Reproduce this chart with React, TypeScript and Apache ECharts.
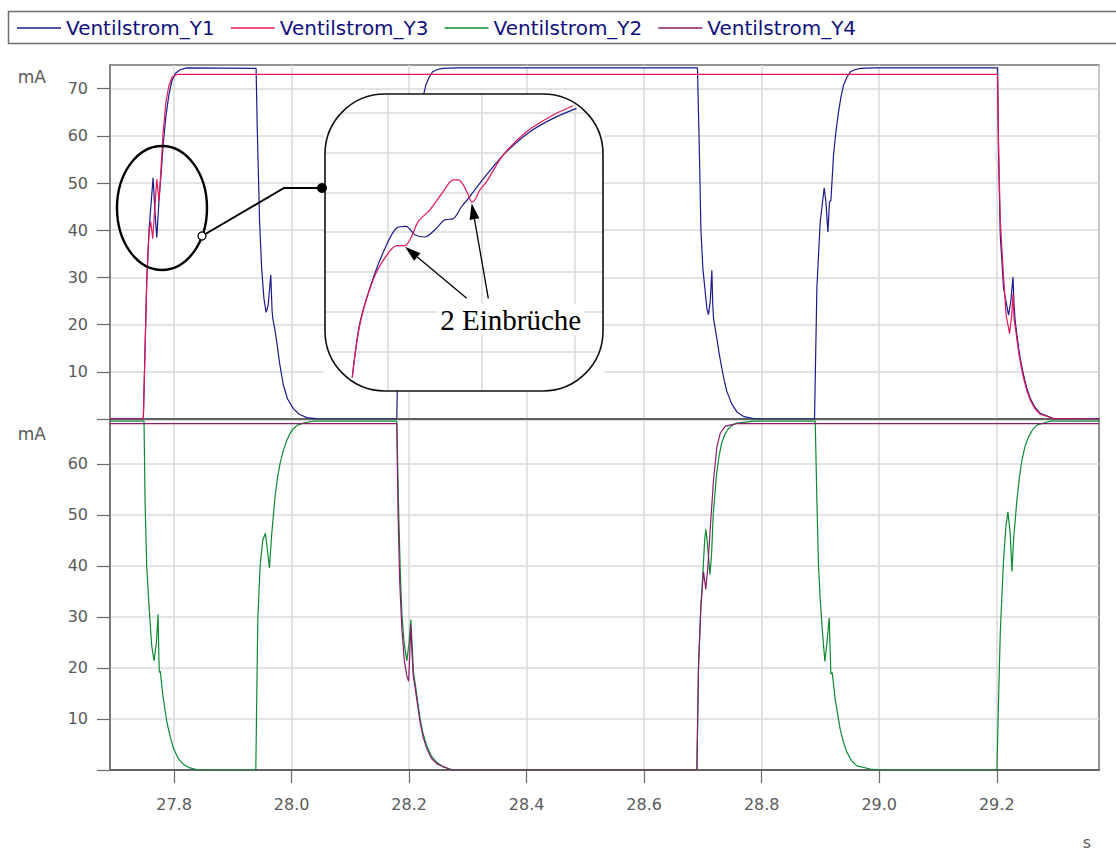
import React, { useEffect, useRef } from "react";
import * as echarts from "echarts";

// ---------- data ----------
const X_MIN = 27.691;
const X_MAX = 29.374;
const xTickValues = [27.8, 28.0, 28.2, 28.4, 28.6, 28.8, 29.0, 29.2];
const yTopTicks = [0, 10, 20, 30, 40, 50, 60, 70];
const yTopLabels = [10, 20, 30, 40, 50, 60, 70];
const yBottomTicks = [0, 10, 20, 30, 40, 50, 60];
const yBottomLabels = [10, 20, 30, 40, 50, 60];
const seriesNames = ["Ventilstrom_Y1", "Ventilstrom_Y3", "Ventilstrom_Y2", "Ventilstrom_Y4"];
const seriesColors = ["#1a1a8c", "#e3175a", "#0c8a32", "#8c1c6c"];
const unitY = "mA";
const unitX = "s";
const annotationText = "2 Einbrüche";

// Ventilstrom_Y1 (upper panel)
const y1Data: [number, number][] = [
  [27.691, 0], [27.7477, 0], [27.7535, 29], [27.7574, 40], [27.7643, 51.1], [27.7675, 44], [27.7706, 38.4],
  [27.7745, 46.6], [27.778, 52], [27.7813, 58], [27.786, 64], [27.791, 68.5], [27.796, 71.5], [27.802, 73.2],
  [27.8102, 74.0], [27.8216, 74.4], [27.9396, 74.3], [27.9415, 62], [27.9435, 52], [27.9455, 42], [27.949, 32],
  [27.953, 25.5], [27.9566, 22.6], [27.96, 24], [27.9646, 30.5], [27.9668, 23], [27.968, 21.3], [27.9715, 19],
  [27.9748, 16.3], [27.98, 11.5], [27.986, 7.2], [27.993, 4.3], [28.003, 2.2], [28.013, 1.0], [28.0259, 0.3],
  [28.0485, 0], [28.179, 0], [28.183, 27.7], [28.1887, 41.8], [28.1955, 49], [28.1984, 46], [28.2018, 39.6],
  [28.2045, 46], [28.2069, 46.3], [28.2113, 55.9], [28.215, 60.5], [28.2198, 65], [28.224, 68.3],
  [28.2283, 70.7], [28.234, 72.4], [28.2397, 73.5], [28.247, 74.0], [28.2568, 74.3], [28.28, 74.4],
  [28.6907, 74.4], [28.6941, 55.8], [28.6965, 40.3], [28.6999, 31.9],
  [28.7067, 23.4], [28.7095, 22.1], [28.7125, 25], [28.7152, 31.5], [28.7165, 25], [28.718, 21.3],
  [28.7237, 17.1], [28.728, 13.6], [28.7322, 10.7], [28.7365, 8.0], [28.7408, 5.8], [28.749, 3.2],
  [28.7578, 1.5], [28.77, 0.5], [28.7861, 0.1], [28.8, 0], [28.8899, 0], [28.8939, 27.7], [28.8996, 41.8],
  [28.9064, 49], [28.9093, 46], [28.9127, 39.6], [28.9154, 46], [28.9178, 46.3], [28.9222, 55.9],
  [28.926, 60.5], [28.9307, 65], [28.935, 68.3], [28.9392, 70.7], [28.945, 72.4], [28.9506, 73.5],
  [28.958, 74.0], [28.9677, 74.3], [28.99, 74.4], [29.2014, 74.4], [29.2031, 55.9], [29.206, 38.9],
  [29.2116, 27.7], [29.2201, 22], [29.224, 25], [29.2276, 30.1], [29.2295, 24], [29.2315, 20.6],
  [29.2372, 15], [29.2415, 11.8], [29.2457, 9.3], [29.251, 6.6], [29.257, 4.4], [29.265, 2.5],
  [29.274, 1.2], [29.2967, 0.1], [29.374, 0],
];

// Ventilstrom_Y3 (upper panel)
const y3Data: [number, number][] = [
  [27.691, 0], [27.7477, 0], [27.7535, 29], [27.7574, 39.6], [27.7603, 41.8], [27.7637, 38.2], [27.7706, 50.8],
  [27.7745, 46.2], [27.778, 53.5], [27.7813, 60.5], [27.786, 67], [27.791, 70.5], [27.7966, 72.4],
  [27.8051, 73], [29.2014, 73], [29.2031, 58], [29.206, 42], [29.2116, 30], [29.216, 22], [29.2218, 18.1],
  [29.2255, 22], [29.2276, 26.5], [29.2295, 21], [29.2315, 19.5], [29.2372, 14.2], [29.2415, 11.1],
  [29.2457, 8.6], [29.251, 6.1], [29.257, 4.0], [29.265, 2.2], [29.274, 1.0], [29.2967, 0.1], [29.374, 0],
];

// Ventilstrom_Y2 (lower panel)
const y2Data: [number, number][] = [
  [27.691, 68.4], [27.7489, 68.4], [27.7506, 52.9], [27.7535, 39.9], [27.7574, 32.1], [27.762, 24.3],
  [27.766, 21.4], [27.77, 25], [27.7728, 30.5], [27.7742, 22], [27.775, 19.1], [27.7765, 19.4],
  [27.7808, 14.8], [27.7876, 9.5], [27.7935, 6.5], [27.7988, 4.3], [27.807, 2.3], [27.8158, 1.1],
  [27.827, 0.4], [27.8386, 0.1], [27.85, 0], [27.9391, 0], [27.9425, 29.5], [27.9464, 39.9], [27.951, 45.1],
  [27.9555, 46.4], [27.959, 43], [27.9623, 39.6], [27.9663, 46.4], [27.9719, 53.6], [27.976, 57.2],
  [27.9804, 60.1], [27.986, 62.6], [27.9918, 64.6], [27.997, 65.9], [28.003, 66.9], [28.01, 67.6],
  [28.02, 68], [28.0371, 68.4], [28.179, 68.4], [28.1818, 52.9],
  [28.1847, 39.9], [28.1876, 30.8], [28.1915, 24.9], [28.1961, 21.4], [28.2, 25], [28.2029, 29.5],
  [28.2051, 24.6], [28.2074, 19.1], [28.2102, 17.1], [28.2187, 10], [28.224, 7], [28.2301, 4.7],
  [28.238, 2.7], [28.2471, 1.5], [28.258, 0.6], [28.2698, 0.2], [28.28, 0], [28.6897, 0], [28.6925, 20.4],
  [28.6965, 32.1], [28.6999, 38.6], [28.703, 45.1], [28.7051, 47.2], [28.7085, 43.2], [28.7119, 38.3],
  [28.7148, 42.5], [28.7176, 50.3], [28.7233, 58.1], [28.7275, 61.6], [28.7318, 64], [28.737, 65.7],
  [28.7432, 66.9], [28.75, 67.6], [28.7578, 68], [28.7861, 68.4], [28.8911, 68.4], [28.8939, 52.9],
  [28.8967, 39.9], [28.8996, 33.4], [28.9035, 26.9],
  [28.9075, 21.3], [28.911, 25], [28.9149, 29.8], [28.9177, 18.8], [28.92, 19.1], [28.925, 13.9],
  [28.9335, 8], [28.939, 5.5], [28.9449, 3.5], [28.953, 1.8], [28.962, 0.8], [28.9847, 0.2], [29.0, 0],
  [29.2003, 0], [29.2031, 13.9], [29.206, 26.9], [29.2116, 41.2], [29.2156, 47.7], [29.219, 50.6],
  [29.2229, 46.4], [29.2258, 38.9], [29.2286, 45.1], [29.2343, 52.9], [29.2385, 57.3], [29.2428, 60.7],
  [29.248, 63.4], [29.2541, 65.3], [29.261, 66.7], [29.2684, 67.6], [29.2911, 68.4], [29.374, 68.4],
];

// Ventilstrom_Y4 (lower panel)
const y4Data: [number, number][] = [
  [27.691, 67.9], [28.179, 67.9], [28.1812, 50], [28.184, 37], [28.1875, 28], [28.1918, 21.5], [28.196, 18.5],
  [28.1992, 17.4], [28.2012, 23], [28.2029, 28.5], [28.2049, 23], [28.207, 18.5], [28.21, 16.3],
  [28.2187, 9.3], [28.224, 6.4], [28.2301, 4.2], [28.238, 2.3], [28.2471, 1.2], [28.2698, 0.1], [28.28, 0],
  [28.6897, 0], [28.6925, 20.4], [28.6965, 32], [28.701, 38.9], [28.7049, 35.4], [28.7085, 40],
  [28.7119, 46.4], [28.718, 56.8], [28.7238, 63.3], [28.7294, 66], [28.738, 67.4], [28.7578, 67.9],
  [29.374, 67.9],
];

// zoomed detail (inset), arbitrary zoom units
const insetY1: [number, number][] = [
  [0.622, 0.339], [0.704, 1.72], [0.846, 2.85], [0.989, 3.686], [1.096, 4.105], [1.195, 4.145],
  [1.291, 3.937], [1.398, 3.879], [1.505, 4.062], [1.611, 4.313], [1.7, 4.338], [1.79, 4.647],
  [1.878, 4.898], [1.985, 5.235], [2.127, 5.652], [2.269, 6.028], [2.519, 6.53], [2.767, 6.867],
  [3.017, 7.118],
];
const insetY3: [number, number][] = [
  [0.622, 0.339], [0.704, 1.677], [0.846, 2.807], [0.971, 3.352], [1.096, 3.661], [1.185, 3.661],
  [1.256, 3.894], [1.327, 4.271], [1.451, 4.564], [1.593, 5.024], [1.7, 5.318], [1.753, 5.318],
  [1.807, 5.192], [1.86, 4.941], [1.896, 4.758], [1.932, 4.816], [1.985, 5.067], [2.057, 5.275],
  [2.234, 5.945], [2.483, 6.53], [2.767, 6.95], [2.981, 7.183],
];

// ---------- helpers ----------
const LABEL_FONT = "DejaVu Sans";
const GRID_LINE = { show: true, lineStyle: { color: "#dadada", width: 1.5 } };
const TICK_STYLE = { color: "#6a6a6a", width: 1.2 };

function nearMultiple(v: number, step: number) {
  const q = v / step;
  return Math.abs(q - Math.round(q)) < 1e-6;
}

function cornerMask(cx: number, cy: number, r: number, start: number, corner: [number, number]) {
  const pts: number[][] = [corner];
  for (let i = 0; i <= 16; i++) {
    const a = ((start + (i * 90) / 16) * Math.PI) / 180;
    pts.push([cx + r * Math.cos(a), cy + r * Math.sin(a)]);
  }
  return pts;
}

function arrow(tail: [number, number], tip: [number, number], len: number, half: number) {
  const dx = tip[0] - tail[0];
  const dy = tip[1] - tail[1];
  const d = Math.hypot(dx, dy);
  const ux = dx / d;
  const uy = dy / d;
  const bx = tip[0] - ux * len;
  const by = tip[1] - uy * len;
  const nx = -uy * half;
  const ny = ux * half;
  return [
    { type: "line", shape: { x1: tail[0], y1: tail[1], x2: bx, y2: by }, style: { stroke: "#000", lineWidth: 1.3 }, z: 8, silent: true },
    { type: "polygon", shape: { points: [tip, [bx + nx, by + ny], [bx - nx, by - ny]] }, style: { fill: "#000" }, z: 8, silent: true },
  ];
}

export default function App() {
  const ref = useRef<HTMLDivElement>(null);

  useEffect(() => {
    if (!ref.current) return;
    const chart = echarts.init(ref.current, undefined, { renderer: "svg" });

    const L = 325, T = 94, W = 278, H = 297, R = 60;
    const Rr = L + W, B = T + H;

    const lineSeries = (name: string, color: string, data: [number, number][], axis: number, z: number, smooth: number | boolean = false) => ({
      name,
      type: "line",
      xAxisIndex: axis,
      yAxisIndex: axis,
      data,
      symbol: "none",
      showSymbol: false,
      smooth,
      lineStyle: { color, width: 1.2 },
      itemStyle: { color },
      z,
      clip: true,
    });

    const option: any = {
      animation: false,
      backgroundColor: "#ffffff",
      legend: {
        show: true,
        left: 17,
        top: 18,
        padding: 0,
        itemGap: 16,
        itemWidth: 44,
        itemHeight: 1.3,
        icon: "rect",
        selectedMode: false,
        data: seriesNames,
        textStyle: { color: "#10107c", fontFamily: LABEL_FONT, fontSize: 20 },
      },
      grid: [
        { left: 110, top: 65, width: 989, height: 354, show: true, borderColor: "#707070", borderWidth: 1.5 },
        { left: 110, top: 419.5, width: 989, height: 351.5, show: true, borderColor: "#707070", borderWidth: 1.5 },
        { left: L, top: T, width: W, height: H, show: false },
      ],
      xAxis: [
        {
          type: "value", gridIndex: 0, min: X_MIN, max: X_MAX, minInterval: 0.2, maxInterval: 0.2,
          axisLine: { show: true, onZero: false, lineStyle: { color: "#626262", width: 2 } },
          axisTick: { show: false },
          axisLabel: { show: false },
          splitLine: GRID_LINE,
        },
        {
          type: "value", gridIndex: 1, min: X_MIN, max: X_MAX, minInterval: 0.2, maxInterval: 0.2,
          axisLine: { show: true, onZero: false, lineStyle: { color: "#626262", width: 2 } },
          axisTick: { show: true, length: 13, customValues: xTickValues, lineStyle: TICK_STYLE },
          axisLabel: {
            show: true, margin: 26, customValues: xTickValues,
            formatter: (v: number) => (nearMultiple(v, 0.2) ? v.toFixed(1) : ""),
            color: "#5a5a5a", fontFamily: LABEL_FONT, fontSize: 16,
          },
          splitLine: GRID_LINE,
          name: unitX, nameLocation: "end", nameGap: -12,
          nameTextStyle: { color: "#5a5a5a", fontFamily: LABEL_FONT, fontSize: 16, align: "center", verticalAlign: "top", padding: [64, 0, 0, 0] },
        },
        {
          type: "value", gridIndex: 2, min: 0.331, max: 3.299, minInterval: 1, maxInterval: 1, z: 4,
          axisLine: { show: false }, axisTick: { show: false }, axisLabel: { show: false },
          splitLine: { show: true, showMinLine: false, showMaxLine: false, lineStyle: { color: "#dadada", width: 1.5 } },
        },
      ],
      yAxis: [
        {
          type: "value", gridIndex: 0, min: 0, max: 75, interval: 10,
          axisLine: { show: true, lineStyle: { color: "#707070", width: 1.5 } },
          axisTick: { show: true, length: 13, customValues: yTopTicks, lineStyle: TICK_STYLE },
          axisLabel: {
            show: true, margin: 22, customValues: yTopLabels,
            formatter: (v: number) => (v > 0 && nearMultiple(v, 10) && v <= 70 ? String(v) : ""),
            color: "#5a5a5a", fontFamily: LABEL_FONT, fontSize: 16,
          },
          splitLine: GRID_LINE,
          name: unitY, nameLocation: "end", nameGap: -12,
          nameTextStyle: { color: "#5a5a5a", fontFamily: LABEL_FONT, fontSize: 17, align: "right", verticalAlign: "middle", padding: [0, 64, 0, 0] },
        },
        {
          type: "value", gridIndex: 1, min: 0, max: 68.7, interval: 10,
          axisLine: { show: true, lineStyle: { color: "#707070", width: 1.5 } },
          axisTick: { show: true, length: 13, customValues: yBottomTicks, lineStyle: TICK_STYLE },
          axisLabel: {
            show: true, margin: 22, customValues: yBottomLabels,
            formatter: (v: number) => (v > 0 && nearMultiple(v, 10) && v <= 60 ? String(v) : ""),
            color: "#5a5a5a", fontFamily: LABEL_FONT, fontSize: 16,
          },
          splitLine: GRID_LINE,
          name: unitY, nameLocation: "end", nameGap: -14,
          nameTextStyle: { color: "#5a5a5a", fontFamily: LABEL_FONT, fontSize: 17, align: "right", verticalAlign: "middle", padding: [0, 64, 0, 0] },
        },
        {
          type: "value", gridIndex: 2, min: 0, max: 7.48, interval: 1, z: 4,
          axisLine: { show: false }, axisTick: { show: false }, axisLabel: { show: false },
          splitLine: { show: true, showMinLine: false, showMaxLine: false, lineStyle: { color: "#dadada", width: 1.5 } },
        },
      ],
      series: [
        lineSeries(seriesNames[0], seriesColors[0], y1Data, 0, 2),
        lineSeries(seriesNames[1], seriesColors[1], y3Data, 0, 2),
        lineSeries(seriesNames[2], seriesColors[2], y2Data, 1, 2),
        lineSeries(seriesNames[3], seriesColors[3], y4Data, 1, 2),
        lineSeries(seriesNames[0], seriesColors[0], insetY1, 2, 6, 0.3),
        lineSeries(seriesNames[1], seriesColors[1], insetY3, 2, 6, 0.3),
      ],
      graphic: {
        elements: [
          // legend frame
          { type: "rect", shape: { x: 8.5, y: 11.5, width: 1120, height: 32 }, style: { fill: "none", stroke: "#6e6e6e", lineWidth: 1.5 }, z: 10, silent: true },
          // inset background
          { type: "rect", shape: { x: L, y: T, width: W, height: H, r: R }, style: { fill: "#ffffff" }, z: 3, silent: true },
          // corner masks so the inset grid stays inside the rounded frame
          { type: "polygon", shape: { points: cornerMask(L + R, T + R, R, 180, [L - 1, T - 1]) }, style: { fill: "#ffffff" }, z: 5, silent: true },
          { type: "polygon", shape: { points: cornerMask(Rr - R, T + R, R, 270, [Rr + 1, T - 1]) }, style: { fill: "#ffffff" }, z: 5, silent: true },
          { type: "polygon", shape: { points: cornerMask(Rr - R, B - R, R, 0, [Rr + 1, B + 1]) }, style: { fill: "#ffffff" }, z: 5, silent: true },
          { type: "polygon", shape: { points: cornerMask(L + R, B - R, R, 90, [L - 1, B + 1]) }, style: { fill: "#ffffff" }, z: 5, silent: true },
          // inset frame
          { type: "rect", shape: { x: L, y: T, width: W, height: H, r: R }, style: { fill: "none", stroke: "#111111", lineWidth: 1.6 }, z: 7, silent: true },
          // ellipse marking the region
          { type: "ellipse", shape: { cx: 162, cy: 208, rx: 45, ry: 62 }, style: { fill: "none", stroke: "#000", lineWidth: 2.4 }, z: 8, silent: true },
          // connector
          { type: "polyline", shape: { points: [[202, 236], [284, 188], [322, 188]] }, style: { fill: "none", stroke: "#000", lineWidth: 2 }, z: 8, silent: true },
          { type: "circle", shape: { cx: 202, cy: 236, r: 4 }, style: { fill: "#fff", stroke: "#000", lineWidth: 1.3 }, z: 9, silent: true },
          { type: "circle", shape: { cx: 322, cy: 188, r: 5 }, style: { fill: "#000" }, z: 9, silent: true },
          // arrows
          ...arrow([466.7, 298.3], [405, 246.7], 16, 5),
          ...arrow([488.3, 298.3], [471.7, 203.3], 16, 5),
          {
            type: "text", x: 510.7, y: 319.5, z: 9, silent: true,
            style: {
              text: annotationText, fontSize: 29, fontFamily: '"Liberation Serif", serif', fill: "#000",
              align: "center", verticalAlign: "middle", backgroundColor: "#ffffff", padding: [1, 3],
            },
          },
        ],
      },
    };

    chart.setOption(option);
    return () => chart.dispose();
  }, []);

  return <div ref={ref} style={{ position: "absolute", left: 0, top: 0, width: 1116, height: 850 }} />;
}
